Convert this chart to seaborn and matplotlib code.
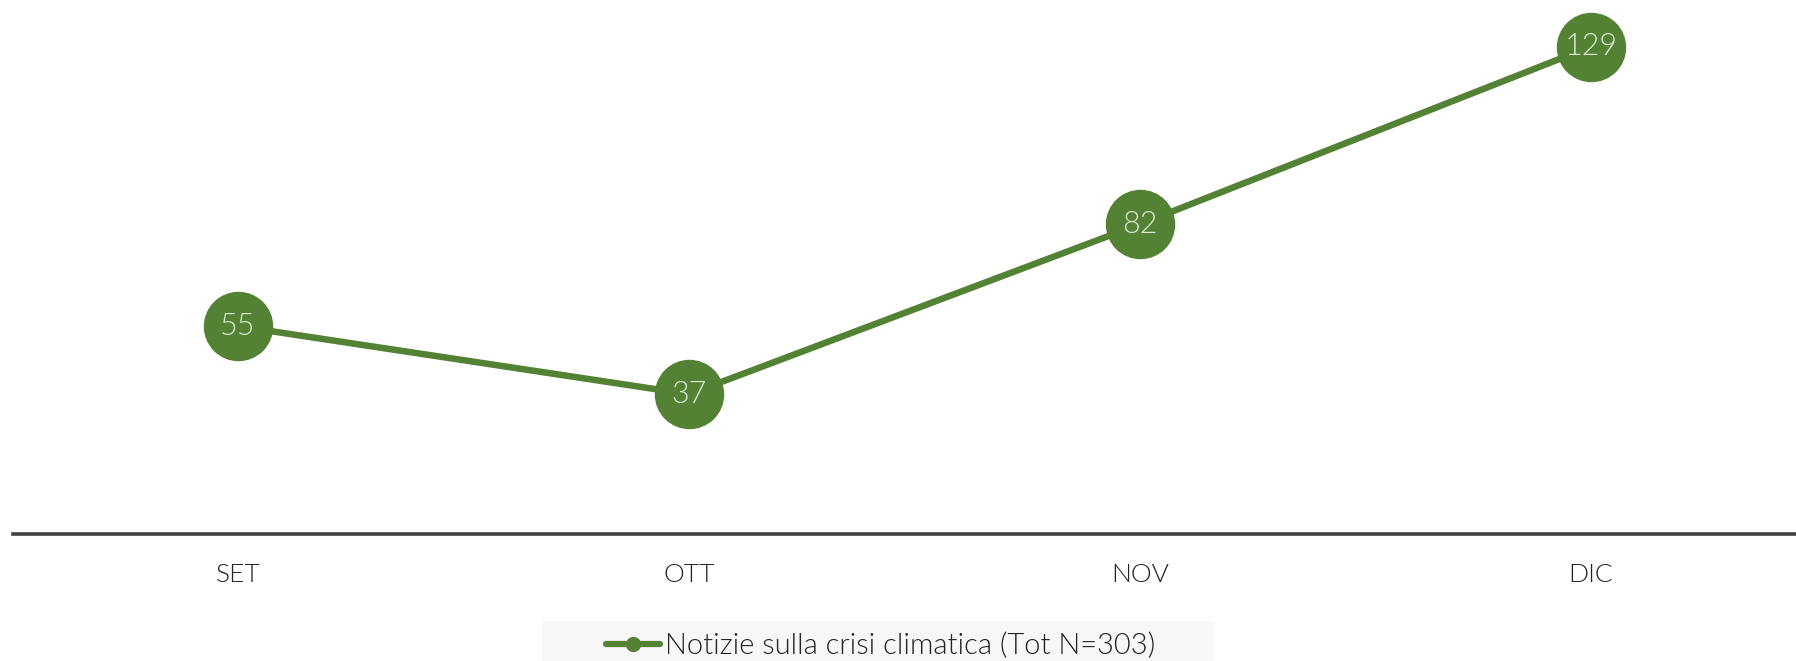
import numpy as np
import pandas as pd
import matplotlib
matplotlib.use('Agg')
import matplotlib.pyplot as plt
import seaborn as sns
from matplotlib.lines import Line2D
from matplotlib.patches import Rectangle

mesi = ['SET', 'OTT', 'NOV', 'DIC']
notizie = [55, 37, 82, 129]
serie = 'Notizie sulla crisi climatica (Tot N=303)'

verde = '#548235'
testo = '#222222'

sns.set_theme(style='white')
plt.rcParams['font.family'] = ['Lato', 'DejaVu Sans']

df = pd.DataFrame({'mese': mesi, 'n': notizie})
df['x'] = range(len(mesi))

W, H = 1796, 661
fig = plt.figure(figsize=(W / 100, H / 100), dpi=100)
ax = fig.add_axes([12.5 / W, 1 - 534 / H, 1804 / W, 529 / H])

sns.lineplot(data=df, x='x', y='n', ax=ax, color=verde, linewidth=4.7,
             marker='o', markersize=50, markeredgewidth=0, legend=False)

for xi, v in zip(df['x'], df['n']):
    ax.text(xi, v, str(v), ha='center', va='center', fontsize=22,
            color='#D9EAD3', fontweight=300, zorder=10)

ax.set_xlim(-0.5, 3.5)
ax.set_ylim(0, 140)
ax.set_xticks(df['x'])
ax.set_xticklabels(mesi, fontsize=19, color=testo, fontweight=300)
ax.tick_params(axis='x', length=0, pad=21)
ax.set_yticks([])
ax.set_xlabel('')
ax.set_ylabel('')
for s in ['top', 'right', 'left']:
    ax.spines[s].set_visible(False)
ax.spines['bottom'].set_color('#404040')
ax.spines['bottom'].set_linewidth(2.6)

# sfondo della legenda
fig.patches.append(Rectangle((542 / W, 0), 672 / W, 40 / H, transform=fig.transFigure,
                             facecolor='#F7F7F7', edgecolor='none', zorder=0))

handle = Line2D([0], [0], color=verde, linewidth=4.5, marker='o', markersize=10)
leg = fig.legend([handle], [serie], loc='center left', bbox_to_anchor=(606 / W, 15 / H),
                 frameon=False, fontsize=21, handlelength=1.85, handletextpad=0.18,
                 borderpad=0, borderaxespad=0)
for t in leg.get_texts():
    t.set_color(testo)
    t.set_fontweight(300)

fig.savefig('out.png', dpi=100)
